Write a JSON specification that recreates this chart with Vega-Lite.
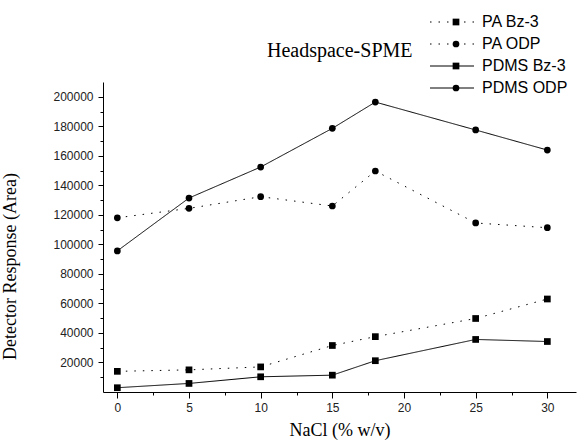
{
  "$schema": "https://vega.github.io/schema/vega-lite/v6.json",
  "width": 473,
  "height": 310,
  "autosize": {"type": "none"},
  "padding": {"left": 103, "top": 82, "right": 3, "bottom": 51},
  "background": "white",
  "title": {"text": "Headspace-SPME", "anchor": "start", "frame": "group", "dx": 164, "dy": 47, "offset": 0, "font": "Liberation Serif", "fontSize": 20, "fontWeight": "normal", "color": "black"},
  "data": {"values": [
    {"series": "PA Bz-3", "nacl": 0, "resp": 14000},
    {"series": "PA Bz-3", "nacl": 5, "resp": 15000},
    {"series": "PA Bz-3", "nacl": 10, "resp": 17000},
    {"series": "PA Bz-3", "nacl": 15, "resp": 31500},
    {"series": "PA Bz-3", "nacl": 18, "resp": 37500},
    {"series": "PA Bz-3", "nacl": 25, "resp": 49800},
    {"series": "PA Bz-3", "nacl": 30, "resp": 63000},
    {"series": "PA ODP", "nacl": 0, "resp": 118000},
    {"series": "PA ODP", "nacl": 5, "resp": 124400},
    {"series": "PA ODP", "nacl": 10, "resp": 132300},
    {"series": "PA ODP", "nacl": 15, "resp": 126000},
    {"series": "PA ODP", "nacl": 18, "resp": 149700},
    {"series": "PA ODP", "nacl": 25, "resp": 114500},
    {"series": "PA ODP", "nacl": 30, "resp": 111300},
    {"series": "PDMS Bz-3", "nacl": 0, "resp": 2900},
    {"series": "PDMS Bz-3", "nacl": 5, "resp": 5800},
    {"series": "PDMS Bz-3", "nacl": 10, "resp": 10300},
    {"series": "PDMS Bz-3", "nacl": 15, "resp": 11400},
    {"series": "PDMS Bz-3", "nacl": 18, "resp": 21200},
    {"series": "PDMS Bz-3", "nacl": 25, "resp": 35600},
    {"series": "PDMS Bz-3", "nacl": 30, "resp": 34200},
    {"series": "PDMS ODP", "nacl": 0, "resp": 95600},
    {"series": "PDMS ODP", "nacl": 5, "resp": 131400},
    {"series": "PDMS ODP", "nacl": 10, "resp": 152400},
    {"series": "PDMS ODP", "nacl": 15, "resp": 178600},
    {"series": "PDMS ODP", "nacl": 18, "resp": 196400},
    {"series": "PDMS ODP", "nacl": 25, "resp": 177500},
    {"series": "PDMS ODP", "nacl": 30, "resp": 163900}
  ]},
  "encoding": {
    "x": {"field": "nacl", "type": "quantitative",
      "scale": {"domain": [-1, 32], "nice": false, "zero": false},
      "axis": {"title": "NaCl (% w/v)", "values": [0, 2.5, 5, 7.5, 10, 12.5, 15, 17.5, 20, 22.5, 25, 27.5, 30],
        "labelExpr": "datum.value % 5 === 0 ? datum.label : ''",
        "grid": false, "domainColor": "black", "tickColor": "black",
        "tickSize": {"condition": {"test": "datum.value % 5 === 0", "value": 6}, "value": 3},
        "labelFont": "Liberation Sans", "labelFontSize": 12, "labelColor": "#222", "labelPadding": 4,
        "titleFont": "Liberation Serif", "titleFontSize": 18, "titleFontWeight": "normal", "titleColor": "black", "titlePadding": 8}},
    "y": {"field": "resp", "type": "quantitative",
      "scale": {"domain": [0, 210000], "nice": false},
      "axis": {"title": "Detector Response (Area)", "format": "d",
        "values": [10000, 20000, 30000, 40000, 50000, 60000, 70000, 80000, 90000, 100000, 110000, 120000, 130000, 140000, 150000, 160000, 170000, 180000, 190000, 200000],
        "labelExpr": "datum.value % 20000 === 0 ? datum.label : ''",
        "grid": false, "domainColor": "black", "tickColor": "black",
        "tickSize": {"condition": {"test": "datum.value % 20000 === 0", "value": 5}, "value": 3},
        "labelFont": "Liberation Sans", "labelFontSize": 12, "labelColor": "#222", "labelPadding": 5,
        "titleFont": "Liberation Serif", "titleFontSize": 18, "titleFontWeight": "normal", "titleColor": "black",
        "titleX": -84, "titleY": 184}}
  },
  "layer": [
    {"mark": {"type": "line", "strokeWidth": 1, "color": "black"},
     "encoding": {"strokeDash": {"field": "series", "type": "nominal",
       "scale": {"domain": ["PA Bz-3", "PA ODP", "PDMS Bz-3", "PDMS ODP"], "range": [[1.5, 7], [1.5, 7], [1, 0], [1, 0]]},
       "legend": {"title": null, "orient": "none", "legendX": 341, "legendY": -68, "symbolType": "M-4.4,0H4.4", "symbolSize": 100,
         "symbolStrokeWidth": 1, "symbolStrokeColor": "black", "symbolFillColor": "transparent", "labelFont": "Liberation Sans", "labelFontSize": 16, "labelColor": "black",
         "rowPadding": 6, "labelOffset": 22}}}},
    {"mark": {"type": "point", "filled": true, "opacity": 1, "color": "black", "size": 45},
     "encoding": {"shape": {"field": "series", "type": "nominal",
       "scale": {"range": ["square", "circle", "square", "circle"]},
       "legend": {"title": null, "orient": "none", "legendX": 345, "legendY": -68, "symbolSize": 45, "symbolFillColor": "black",
         "symbolStrokeColor": "black", "labelFont": "Liberation Sans", "labelFontSize": 16, "labelExpr": "' '", "labelOpacity": 0, "rowPadding": 6, "labelOffset": 6}}}}
  ],
  "config": {"view": {"stroke": null}}
}
